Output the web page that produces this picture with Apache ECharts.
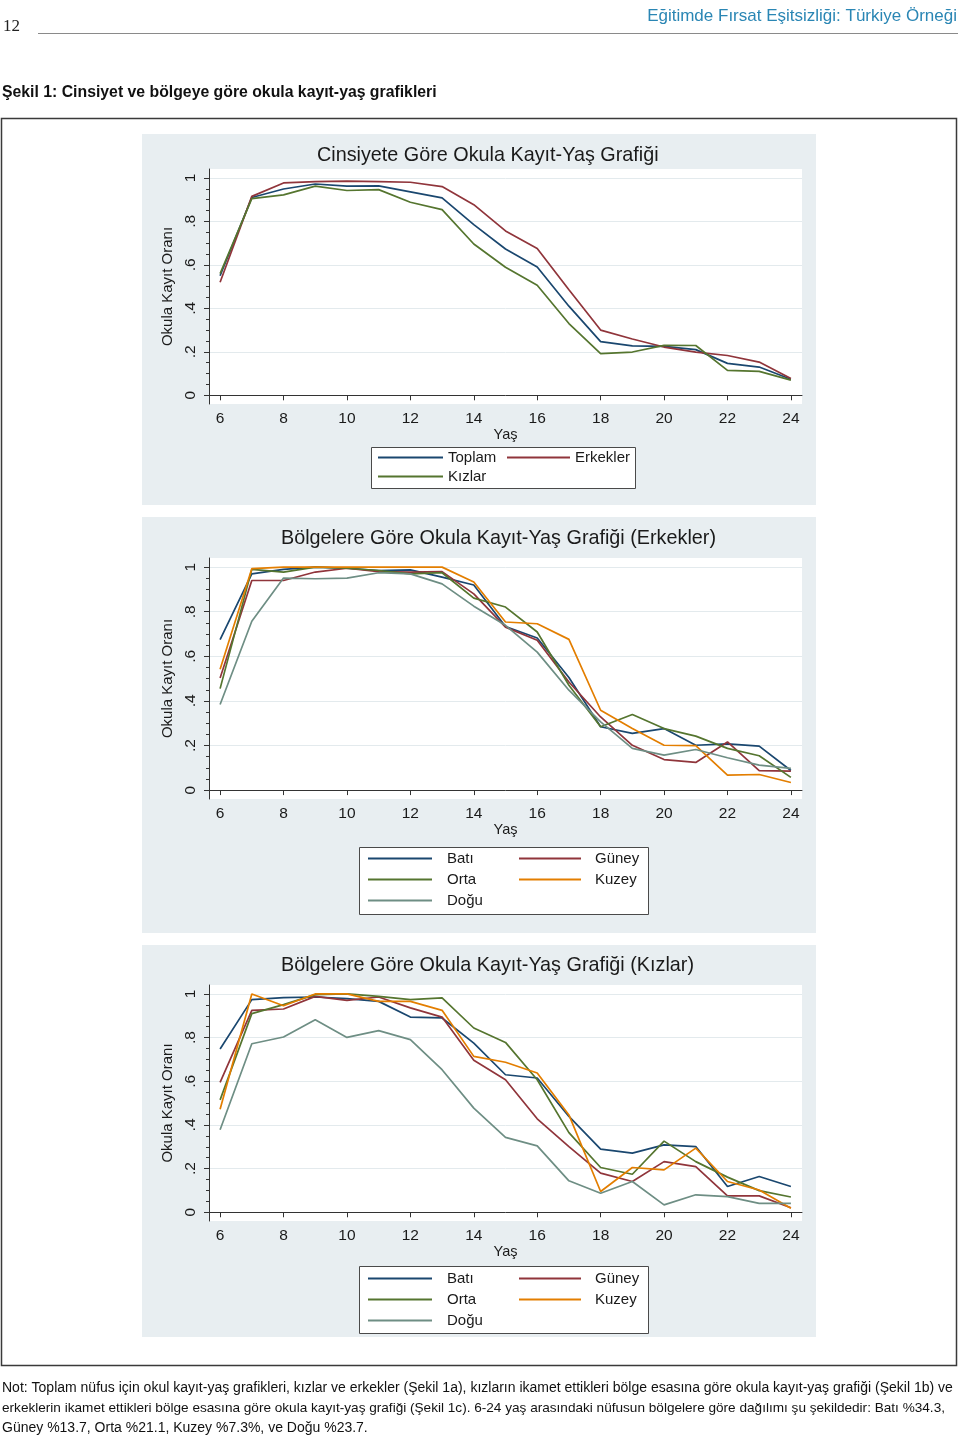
<!DOCTYPE html>
<html><head><meta charset="utf-8">
<script src="https://cdn.jsdelivr.net/npm/echarts@6/dist/echarts.min.js"></script>
<style>html,body{margin:0;padding:0;background:#fff}#c{width:960px;height:1437px}</style>
</head><body><div id="c"></div>
<script>
const ages = [6,7,8,9,10,11,12,13,14,15,16,17,18,19,20,21,22,23,24];
// Figure 1a: by sex
const toplam   = [0.55,0.91,0.949,0.972,0.962,0.963,0.936,0.908,0.785,0.673,0.59,0.41,0.247,0.227,0.225,0.21,0.147,0.13,0.074];
const erkekler = [0.52,0.915,0.977,0.983,0.985,0.983,0.98,0.96,0.877,0.756,0.675,0.486,0.30,0.259,0.222,0.199,0.183,0.153,0.077];
const kizlar   = [0.56,0.905,0.922,0.962,0.942,0.946,0.888,0.854,0.696,0.589,0.506,0.33,0.192,0.199,0.23,0.229,0.115,0.11,0.07];
// Figure 1b: boys by region
const eBati  = [0.675,0.97,0.99,1.0,0.995,0.985,0.988,0.955,0.92,0.734,0.682,0.505,0.284,0.254,0.276,0.201,0.207,0.197,0.088];
const eGuney = [0.503,0.94,0.94,0.978,0.995,0.98,0.978,0.98,0.88,0.731,0.672,0.485,0.328,0.201,0.137,0.124,0.216,0.087,0.085];
const eOrta  = [0.455,0.99,0.978,1.0,0.995,0.985,0.97,0.975,0.861,0.821,0.709,0.47,0.284,0.339,0.276,0.242,0.187,0.154,0.057];
const eKuzey = [0.542,0.993,1.0,1.0,1.0,1.0,1.0,1.0,0.933,0.754,0.746,0.676,0.358,0.276,0.201,0.199,0.067,0.07,0.034];
const eDogu  = [0.384,0.757,0.951,0.948,0.951,0.975,0.97,0.925,0.825,0.739,0.619,0.448,0.306,0.187,0.157,0.182,0.145,0.112,0.097];
// Figure 1c: girls by region
const kBati  = [0.748,0.974,0.983,0.986,0.979,0.966,0.894,0.89,0.775,0.63,0.615,0.439,0.289,0.271,0.309,0.301,0.118,0.164,0.118];
const kGuney = [0.595,0.925,0.931,0.989,0.971,0.986,0.936,0.894,0.696,0.607,0.428,0.301,0.179,0.141,0.232,0.209,0.075,0.075,0.021];
const kOrta  = [0.515,0.91,0.951,0.997,1.0,0.989,0.974,0.982,0.844,0.778,0.607,0.365,0.205,0.174,0.326,0.232,0.161,0.099,0.07];
const kKuzey = [0.472,1.0,0.946,1.0,1.0,0.966,0.966,0.925,0.714,0.687,0.638,0.446,0.095,0.205,0.194,0.294,0.141,0.102,0.018];
const kDogu  = [0.378,0.772,0.803,0.882,0.801,0.832,0.791,0.653,0.477,0.343,0.304,0.144,0.087,0.141,0.034,0.08,0.072,0.041,0.041];

const xTicks = [6,8,10,12,14,16,18,20,22,24];
const yTicks = [0,0.2,0.4,0.6,0.8,1];
const yMinorTicks = [0.05,0.1,0.15,0.25,0.3,0.35,0.45,0.5,0.55,0.65,0.7,0.75,0.85,0.9,0.95];
const yTickLabel = v => (v === 0 ? '0' : v === 1 ? '1' : String(v).replace(/^0/, ''));

const titles = ['Cinsiyete Göre Okula Kayıt-Yaş Grafiği',
                'Bölgelere Göre Okula Kayıt-Yaş Grafiği (Erkekler)',
                'Bölgelere Göre Okula Kayıt-Yaş Grafiği (Kızlar)'];
const xName = 'Yaş';
const yName = 'Okula Kayıt Oranı';
const pageNo = '12';
const headerText = 'Eğitimde Fırsat Eşitsizliği: Türkiye Örneği';
const figTitle = 'Şekil 1: Cinsiyet ve bölgeye göre okula kayıt-yaş grafikleri';
const noteLines = [
 'Not: Toplam nüfus için okul kayıt-yaş grafikleri, kızlar ve erkekler (Şekil 1a), kızların ikamet ettikleri bölge esasına göre okula kayıt-yaş grafiği (Şekil 1b) ve',
 'erkeklerin ikamet ettikleri bölge esasına göre okula kayıt-yaş grafiği (Şekil 1c). 6-24 yaş arasındaki nüfusun bölgelere göre dağılımı şu şekildedir: Batı %34.3,',
 'Güney %13.7, Orta %21.1, Kuzey %7.3%, ve Doğu %23.7.'
];
const noteSizes = [14, 13.6, 14];

const C = {navy:'#1a476f', maroon:'#90353b', green:'#55752f', orange:'#e37e00', teal:'#6e8e84'};
const FONT = '"Liberation Sans", Arial, Helvetica, sans-serif';
const NARROW = '"Liberation Sans Narrow", "Liberation Sans", Arial, sans-serif';

const grids = [
  {left:209, top:169, width:593, height:235},
  {left:209, top:558, width:593, height:241},
  {left:209, top:985, width:593, height:236}
];

const chart = echarts.init(document.getElementById('c'), null, {renderer:'canvas'});

const xAxis = [], yAxis = [];
grids.forEach((g, i) => {
  xAxis.push({
    type:'value', gridIndex:i, min:5.65, max:24.35,
    axisLine:{show:true, lineStyle:{color:'#333', width:1}},
    axisTick:{show:true, customValues:xTicks, length:5, lineStyle:{color:'#333'}},
    axisLabel:{customValues:xTicks, fontSize:15.5, color:'#1a1a1a', margin:7, fontFamily:FONT},
    splitLine:{show:false},
    name:xName, nameLocation:'middle', nameGap:23,
    nameTextStyle:{fontSize:14.5, color:'#1a1a1a', fontFamily:FONT}
  });
  yAxis.push({
    type:'value', gridIndex:i, min:-0.04, max:1.041,
    axisLine:{show:true, lineStyle:{color:'#333', width:1}},
    axisTick:{show:true, customValues:yTicks, length:5, lineStyle:{color:'#333'}},
    axisLabel:{customValues:yTicks, rotate:90, fontSize:15.5, color:'#1a1a1a', margin:10,
               fontFamily:FONT, formatter:yTickLabel},
    splitLine:{show:true, lineStyle:{color:'#e3eaed', width:1}},
    name:yName, nameLocation:'middle', nameGap:33,
    nameTextStyle:{fontSize:15, color:'#1a1a1a', fontFamily:FONT}
  });
  yAxis.push({
    type:'value', gridIndex:i, min:-0.04, max:1.041, position:'left',
    axisLine:{show:false},
    axisTick:{show:true, customValues:yMinorTicks, length:3, lineStyle:{color:'#333'}},
    axisLabel:{show:false},
    splitLine:{show:false}
  });
});

function mk(name, vals, color, gi) {
  return {
    type:'line', name, xAxisIndex:gi, yAxisIndex:gi*2,
    data: ages.map((a, k) => [a, vals[k]]),
    symbol:'none', smooth:false, animation:false,
    lineStyle:{color, width:1.7}, itemStyle:{color},
    emphasis:{disabled:true}, z:3
  };
}

const series = [
  mk('Toplam', toplam, C.navy, 0),
  mk('Erkekler', erkekler, C.maroon, 0),
  mk('Kızlar', kizlar, C.green, 0),
  mk('Batı', eBati, C.navy, 1),
  mk('Güney', eGuney, C.maroon, 1),
  mk('Orta', eOrta, C.green, 1),
  mk('Kuzey', eKuzey, C.orange, 1),
  mk('Doğu', eDogu, C.teal, 1),
  mk('Batı', kBati, C.navy, 2),
  mk('Güney', kGuney, C.maroon, 2),
  mk('Orta', kOrta, C.green, 2),
  mk('Kuzey', kKuzey, C.orange, 2),
  mk('Doğu', kDogu, C.teal, 2)
];

function leg(data, left, top, itemWidth, gap, pad) {
  return {
    data, left, top, orient:'vertical', itemWidth, itemHeight:10, itemGap:gap, padding:0,
    selectedMode:false,
    itemStyle:{opacity:0},
    textStyle:{fontSize:15, lineHeight:15, color:'#1a1a1a', fontFamily:FONT, padding:[0,0,0,pad]}
  };
}
const legend = [
  leg(['Toplam','Kızlar'], 377, 450, 65, 4, 0),
  leg(['Erkekler'], 506, 450, 63, 4, 0),
  leg(['Batı','Orta','Doğu'], 367, 851, 64, 6, 10),
  leg(['Güney','Kuzey'], 518, 851, 62, 6, 9),
  leg(['Batı','Orta','Doğu'], 367, 1271, 64, 6, 10),
  leg(['Güney','Kuzey'], 518, 1271, 62, 6, 9)
];

const title = [
  {text:titles[0], left:317, top:146},
  {text:titles[1], left:281, top:529},
  {text:titles[2], left:281, top:956}
].map(t => Object.assign(t, {padding:0, textStyle:{fontSize:19.8, fontWeight:'normal', color:'#1a1a1a', fontFamily:FONT}}));

const panels = [[142,134,674,371],[142,517,674,416],[142,945,674,392]];
const legendBoxes = [[371,447,264,41],[359,847,289,67],[359,1266,289,67]];

const graphic = [];
panels.forEach(p => graphic.push({type:'rect', z:-5, shape:{x:p[0],y:p[1],width:p[2],height:p[3]}, style:{fill:'#e8eef1'}}));
legendBoxes.forEach(b => graphic.push({type:'rect', z:1, shape:{x:b[0]+0.5,y:b[1]+0.5,width:b[2],height:b[3]}, style:{fill:'#fff', stroke:'#4a4a4a', lineWidth:1}}));
graphic.push({type:'rect', z:1, shape:{x:1.5,y:118.5,width:955,height:1247}, style:{fill:'none', stroke:'#3a3a3a', lineWidth:1.5}});
graphic.push({type:'line', z:1, shape:{x1:38,y1:33.5,x2:958,y2:33.5}, style:{stroke:'#8a8a8a', lineWidth:1}});
graphic.push({type:'text', z:1, x:3, y:27, style:{text:pageNo, font:'17px "Liberation Serif", "Times New Roman", serif', fill:'#222', verticalAlign:'middle'}});
graphic.push({type:'text', z:1, x:957, y:16, style:{text:headerText, font:'17px '+FONT, fill:'#2a86b4', align:'right', verticalAlign:'middle'}});
graphic.push({type:'text', z:1, x:2, y:93, style:{text:figTitle, font:'bold 15.8px '+FONT, fill:'#111', verticalAlign:'middle'}});
noteLines.forEach((t, i) => graphic.push({type:'text', z:1, x:2, y:1388 + i*20, style:{text:t, font:noteSizes[i]+'px '+NARROW, fill:'#111', verticalAlign:'middle'}}));

chart.setOption({
  animation:false,
  backgroundColor:'#ffffff',
  title,
  grid: grids.map(g => Object.assign({show:true, backgroundColor:'#ffffff', borderWidth:0, containLabel:false}, g)),
  xAxis, yAxis, series, legend, graphic
});
</script>
</body></html>
